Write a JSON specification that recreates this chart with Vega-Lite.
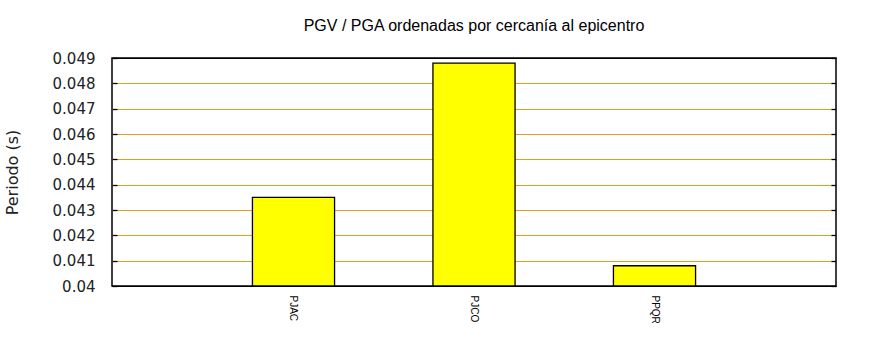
{
  "$schema": "https://vega.github.io/schema/vega-lite/v6.json",
  "autosize": "none",
  "width": 724,
  "height": 228,
  "padding": {"left": 112, "top": 58, "right": 34, "bottom": 64},
  "background": "white",
  "title": {
    "text": "PGV / PGA ordenadas por cercanía al epicentro",
    "font": "Liberation Sans",
    "fontSize": 16,
    "fontWeight": "normal",
    "color": "#000000",
    "anchor": "middle",
    "offset": 17
  },
  "config": {
    "view": {"stroke": "#000000", "strokeWidth": 1.5},
    "axis": {"domain": false}
  },
  "data": {
    "values": [
      {"estacion": "PJAC", "periodo": 0.0435},
      {"estacion": "PJCO", "periodo": 0.0488},
      {"estacion": "PPQR", "periodo": 0.0408}
    ]
  },
  "layer": [
    {
      "mark": {"type": "bar", "color": "#ffff00", "stroke": "#000000", "strokeWidth": 1.3},
      "encoding": {
        "x": {
          "field": "estacion",
          "type": "nominal",
          "sort": null,
          "scale": {"paddingInner": 0.545, "paddingOuter": 0.778},
          "axis": {
            "title": null,
            "labelAngle": 90,
            "labelAlign": "left",
            "labelBaseline": "middle",
            "labelFont": "Liberation Sans",
            "labelFontSize": 10,
            "labelColor": "#000000",
            "labelPadding": 9,
            "ticks": false,
            "grid": false
          }
        },
        "y": {
          "field": "periodo",
          "type": "quantitative",
          "scale": {"domain": [0.04, 0.049], "nice": false, "zero": false},
          "axis": {
            "title": "Periodo (s)",
            "titleFont": "DejaVu Sans",
            "titleFontSize": 16,
            "titleFontWeight": "normal",
            "titleColor": "#222222",
            "titlePadding": 32,
            "values": [0.04, 0.041, 0.042, 0.043, 0.044, 0.045, 0.046, 0.047, 0.048, 0.049],
            "format": "~g",
            "labelFont": "DejaVu Sans",
            "labelFontSize": 15,
            "labelColor": "#222222",
            "labelPadding": 22,
            "tickSize": -5,
            "tickColor": "#000000",
            "tickWidth": 1.3,
            "grid": true,
            "gridColor": {
              "condition": {"test": "datum.value <= 0.04 || datum.value >= 0.049", "value": "#000000"},
              "value": "#e0a020"
            },
            "gridWidth": 1.2,
            "gridOpacity": 1
          }
        },
        "y2": {"datum": 0.04}
      }
    },
    {
      "mark": {"type": "bar", "opacity": 0},
      "encoding": {
        "x": {"field": "estacion", "type": "nominal", "sort": null},
        "y": {
          "field": "periodo",
          "type": "quantitative",
          "scale": {"domain": [0.04, 0.049], "nice": false, "zero": false},
          "axis": {
            "orient": "right",
            "title": null,
            "labels": false,
            "values": [0.04, 0.041, 0.042, 0.043, 0.044, 0.045, 0.046, 0.047, 0.048, 0.049],
            "tickSize": -5,
            "tickColor": "#000000",
            "tickWidth": 1.3,
            "grid": false
          }
        },
        "y2": {"datum": 0.04}
      }
    }
  ],
  "resolve": {"axis": {"y": "independent"}}
}
